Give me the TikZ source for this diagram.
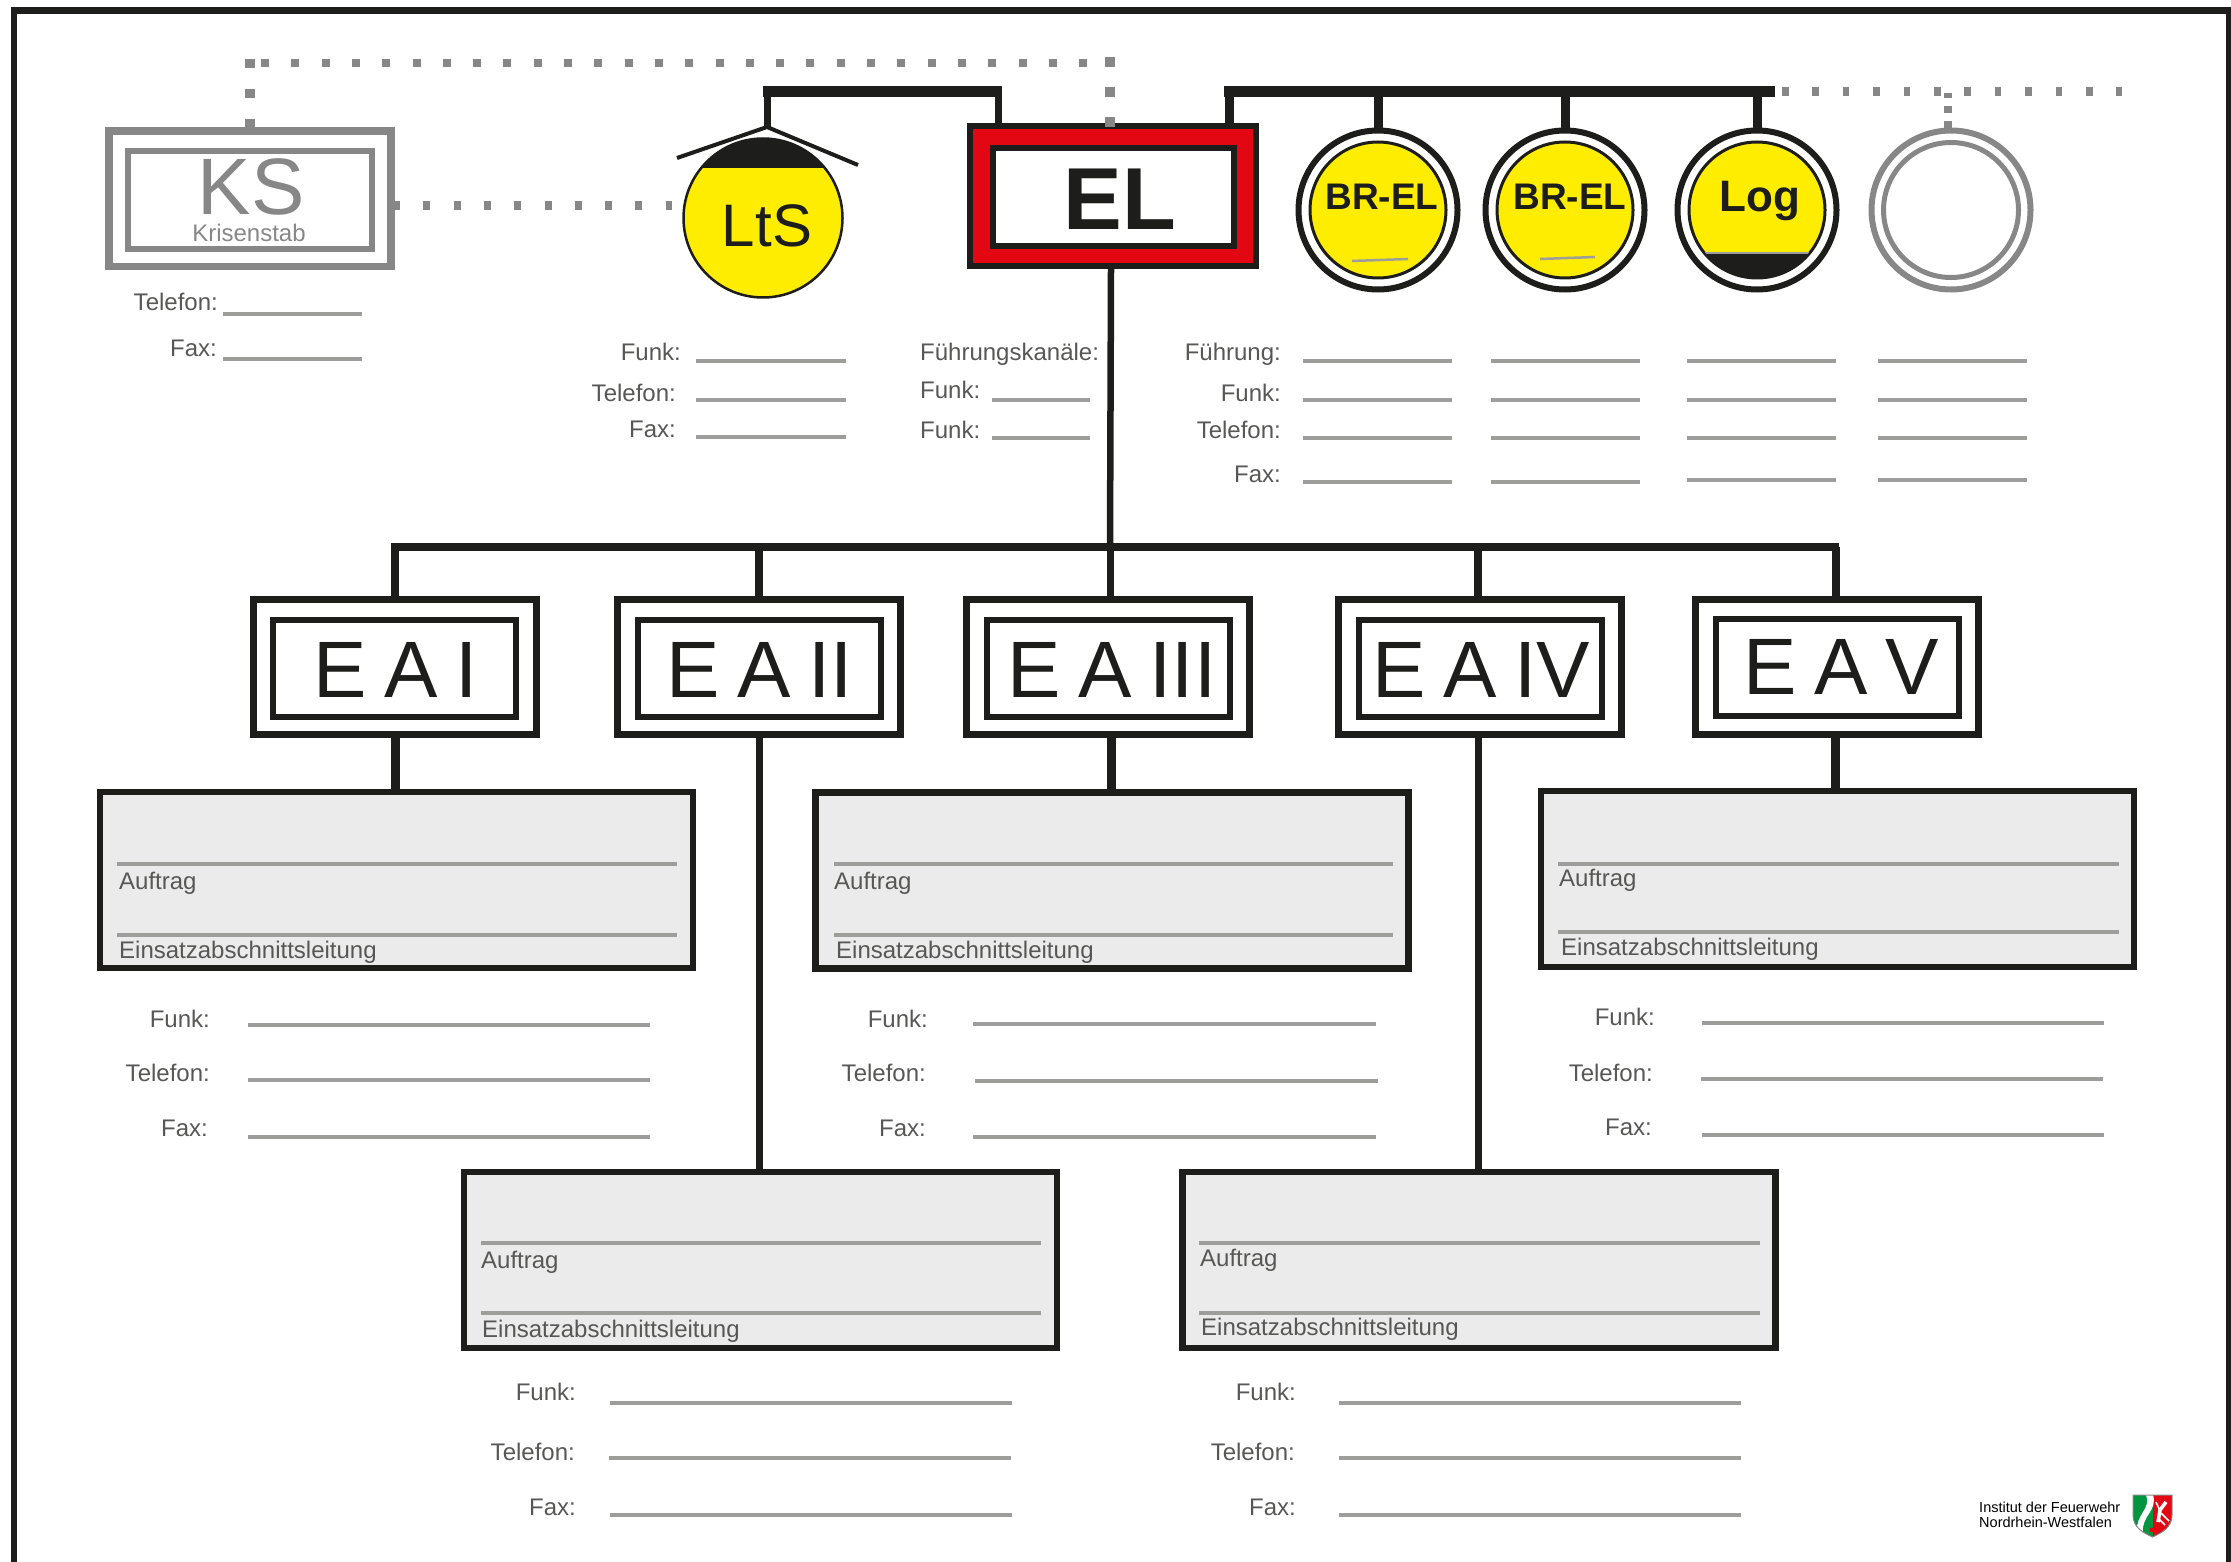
\documentclass[tikz,border=0pt]{standalone}
\usepackage{fontspec}
\setmainfont{Liberation Sans}
\definecolor{sheetblack}{HTML}{1D1D1B}
\definecolor{sheetred}{HTML}{E30613}
\definecolor{sheetyellow}{HTML}{FFED00}
\definecolor{sheetgray}{HTML}{878787}
\definecolor{rulegray}{HTML}{9D9D9C}
\definecolor{textgray}{HTML}{575756}
\definecolor{panelgray}{HTML}{EBEBEB}
\definecolor{shieldgreen}{HTML}{009640}
\def\eafont{\fontsize{80}{90}\selectfont\spaceskip=.22em\relax}
\tikzset{
	bus/.style={line width=11pt, color=sheetblack},
	stem/.style={line width=8pt, color=sheetblack},
	dotline/.style={line width=9pt, color=sheetgray},
	rowline/.style={line width=3.2pt, color=rulegray},
	rowlabel/.style={anchor=base east, inner sep=0pt, text=textgray, font=\fontsize{24}{28}\selectfont},
	rowlabelw/.style={rowlabel, anchor=base west},
	eaouter/.style={draw=sheetblack, line width=7pt, fill=white, rectangle, outer sep=0pt, inner sep=0pt, minimum width=283pt, minimum height=135pt},
	eainner/.style={draw=sheetblack, line width=6pt, rectangle, outer sep=0pt, inner sep=0pt, minimum width=243pt, minimum height=97pt},
	eatext/.style={anchor=base, inner sep=0pt, text=sheetblack, font=\eafont},
	panel/.style={draw=sheetblack, line width=6.5pt, fill=panelgray, rectangle, outer sep=0pt, inner sep=0pt, minimum width=593pt, minimum height=176pt},
	ringouter/.style={draw=sheetblack, line width=6pt, fill=white, circle, outer sep=0pt, inner sep=0pt, minimum size=159pt},
	ringinner/.style={draw=sheetblack, line width=3pt, fill=sheetyellow, circle, outer sep=0pt, inner sep=0pt, minimum size=136pt},
	ringtext/.style={anchor=base, inner sep=0pt, text=sheetblack, font=\bfseries\fontsize{37}{42}\selectfont},
}
\def\rowrule(#1,#2:#3){\draw[rowline] (#1,#2) -- (#3,#2);}
\def\panelrules(#1:#2)(#3:#4){\draw[line width=3.5pt, color=rulegray] (#1,#3) -- (#2,#3); \draw[line width=3.5pt, color=rulegray] (#1,#4) -- (#2,#4);}

\begin{document}
\begin{tikzpicture}[x=1pt, y=-1pt]
	\useasboundingbox (0,0) rectangle (2231,1562);
	%%%%% FRAME %%%%%
	\draw[line width=6.5pt, color=sheetblack] (14,1562) -- (14,10.5) -- (2229,10.5) -- (2229,1562);

	%%%%% TOP ROW %%%%%
	\node[draw=sheetgray, line width=7.5pt, rectangle, outer sep=0pt, minimum width=282pt, minimum height=135.5pt] (ks) at (250,199) {};
	\node[draw=sheetgray, line width=6pt, rectangle, outer sep=0pt, minimum width=244pt, minimum height=98pt] (ksinner) at (250,200) {};
	\node[anchor=base, inner sep=0pt, text=sheetgray, font=\fontsize{80}{90}\selectfont] (kstext) at (251,215) {KS};
	\node[anchor=base, inner sep=0pt, text=sheetgray, font=\fontsize{24}{28}\selectfont] (kssub) at (249,242) {Krisenstab};

	\node[draw=sheetblack, line width=2.5pt, fill=sheetyellow, circle, outer sep=0pt, inner sep=0pt, minimum size=159pt] (lts) at (763,218) {};
	\begin{scope}
		\clip (763,218) circle (79);
		\fill[sheetblack] (680,130) rectangle (850,168);
	\end{scope}
	\node[anchor=base, inner sep=0pt, text=sheetblack, font=\fontsize{60}{68}\selectfont] (ltstext) at (767,247) {LtS};
	\coordinate (roof) at (767,127);
	\draw[line width=4pt, color=sheetblack] (677,158) -- (roof) -- (858,165);

	\node[draw=sheetblack, line width=6pt, fill=sheetred, rectangle, outer sep=0pt, minimum width=286pt, minimum height=140pt] (el) at (1113,196.5) {};
	\node[draw=sheetblack, line width=6pt, fill=white, rectangle, outer sep=0pt, minimum width=241pt, minimum height=98pt] (elinner) at (1113.5,197) {};
	\node[anchor=base, inner sep=0pt, text=sheetblack, font=\bfseries\fontsize{88}{98}\selectfont] (eltext) at (1120,230) {EL};

	\node[ringouter] (brone) at (1378,210) {};
	\node[ringinner] (broneinner) at (1378,210) {};
	\node[ringtext] (bronetext) at (1382,210) {BR-EL};
	\draw[line width=2.5pt, color=rulegray] (1352,261) -- (1408,259);

	\node[ringouter] (brtwo) at (1565,210) {};
	\node[ringinner] (brtwoinner) at (1565,210) {};
	\node[ringtext] (brtwotext) at (1570,210) {BR-EL};
	\draw[line width=2.5pt, color=rulegray] (1540,259) -- (1595,257);

	\node[ringouter] (log) at (1757,210) {};
	\node[ringinner] (loginner) at (1757,210) {};
	\begin{scope}
		\clip (1757,210) circle (67);
		\fill[sheetblack] (1680,254) rectangle (1840,285);
		\draw[line width=2.5pt, color=rulegray] (1680,253) -- (1840,253);
	\end{scope}
	\node[ringtext, font=\bfseries\fontsize{44}{50}\selectfont] (logtext) at (1760,212) {Log};

	\node[draw=sheetgray, line width=6pt, circle, outer sep=0pt, inner sep=0pt, minimum size=159pt] (spare) at (1951,210) {};
	\node[draw=sheetgray, line width=5pt, circle, outer sep=0pt, inner sep=0pt, minimum size=135pt] (spareinner) at (1951,210) {};

	%%%%% TOP CONNECTORS %%%%%
	\coordinate (busa) at (763,91.5);
	\coordinate (busb) at (1001.5,91.5);
	\coordinate (busc) at (1224,91.5);
	\coordinate (busd) at (1775,91.5);
	\draw[bus] (busa) -- (busb);
	\draw[bus] (busc) -- (busd);
	\draw[line width=7pt, color=sheetblack] (roof) -- (roof |- busa);
	\draw[line width=7pt, color=sheetblack] (998,125) -- (998,91.5);
	\draw[line width=9pt, color=sheetblack] (1229,125) -- (1229,91.5);
	\draw[line width=9pt, color=sheetblack] (brone.north) -- (brone.north |- busd);
	\draw[line width=9pt, color=sheetblack] (brtwo.north) -- (brtwo.north |- busd);
	\draw[line width=9pt, color=sheetblack] (log.north) -- (log.north |- busd);

	\coordinate (kstop) at (249.5,128);
	\coordinate (kscorner) at (249.5,59);
	\coordinate (dotstart) at (261,63);
	\coordinate (dotend) at (1090,63);
	\coordinate (eltop) at (1110,127);
	\coordinate (elcorner) at (1110,57);
	\coordinate (ksout) at (393,206);
	\coordinate (ltsin) at (672,206);
	\coordinate (dotright) at (2122,91.5);
	\coordinate (dotleft) at (1782,91.5);
	\coordinate (sparetop) at (1948,128);
	\coordinate (sparebus) at (1948,93);
	\draw[line width=10pt, color=sheetgray, dash pattern=on 9pt off 21pt] (kstop) -- (kscorner);
	\draw[line width=8pt, color=sheetgray, dash pattern=on 8pt off 22.3pt] (dotstart) -- (dotend);
	\draw[line width=10pt, color=sheetgray, dash pattern=on 10pt off 20pt] (eltop) -- (elcorner);
	\draw[dotline, dash pattern=on 7pt off 23.3pt] (ksout) -- (ltsin);
	\draw[dotline, dash pattern=on 6.5pt off 23.9pt] (dotleft) -- (dotright);
	\draw[line width=8pt, color=sheetgray, dash pattern=on 7pt off 8pt] (sparetop) -- (sparebus);

	%%%%% TOP LABELS %%%%%
	\node[rowlabel] (kstel) at (218,311) {Telefon:};
	\node[rowlabel] (ksfax) at (217,357) {Fax:};
	\rowrule(223,314:362)
	\rowrule(223,359:362)

	\node[rowlabel] (ltsfunk) at (681,361) {Funk:};
	\node[rowlabel] (ltstel) at (676,401) {Telefon:};
	\node[rowlabel] (ltsfax) at (676,437) {Fax:};
	\rowrule(696,361:846)
	\rowrule(696,400:846)
	\rowrule(696,437:846)

	\node[rowlabelw] (elkan) at (920,361) {Führungskanäle:};
	\node[rowlabelw] (elfunka) at (920,399) {Funk:};
	\node[rowlabelw] (elfunkb) at (920,438) {Funk:};
	\rowrule(992,400:1090)
	\rowrule(992,438:1090)

	\node[rowlabel] (brfuehr) at (1281,361) {Führung:};
	\node[rowlabel] (brfunk) at (1281,401) {Funk:};
	\node[rowlabel] (brtel) at (1281,438) {Telefon:};
	\node[rowlabel] (brfax) at (1281,482) {Fax:};
	\rowrule(1303,361:1452) \rowrule(1491,361:1640) \rowrule(1687,361:1836) \rowrule(1878,361:2027)
	\rowrule(1303,400:1452) \rowrule(1491,400:1640) \rowrule(1687,400:1836) \rowrule(1878,400:2027)
	\rowrule(1303,438:1452) \rowrule(1491,438:1640) \rowrule(1687,438:1836) \rowrule(1878,438:2027)
	\rowrule(1303,482:1452) \rowrule(1491,482:1640) \rowrule(1687,480:1836) \rowrule(1878,480:2027)

	%%%%% SECTIONS %%%%%
	\coordinate (lowl) at (391,546.5);
	\coordinate (lowr) at (1839,546.5);

	\node[eaouter] (eaone) at (395,667) {};
	\node[eainner] (eaoneinner) at (394.5,668.5) {};
	\node[eatext] (eaonetext) at (396,697) {E A I};
	\node[eaouter] (eatwo) at (759,667) {};
	\node[eainner] (eatwoinner) at (759,668.5) {};
	\node[eatext] (eatwotext) at (760,697) {E A II};
	\node[eaouter] (eathree) at (1108,667) {};
	\node[eainner] (eathreeinner) at (1108,668.5) {};
	\node[eatext] (eathreetext) at (1112,697) {E A III};
	\node[eaouter] (eafour) at (1480,667) {};
	\node[eainner] (eafourinner) at (1480,668.5) {};
	\node[eatext] (eafourtext) at (1481,697) {E A IV};
	\node[eaouter] (eafive) at (1837,667) {};
	\node[eainner] (eafiveinner) at (1837,667) {};
	\node[eatext] (eafivetext) at (1841,694) {E A V};

	\node[panel] (panone) at (396.5,880) {};
	\node[panel] (panthree) at (1112,880.5) {};
	\node[panel] (panfive) at (1837.5,879) {};
	\node[panel] (pantwo) at (760.5,1260) {};
	\node[panel] (panfour) at (1479,1260) {};

	\draw[line width=8pt, color=sheetblack] (lowl) -- (lowr);
	\draw[line width=6.5pt, color=sheetblack] (1111,269) -- (1110,546.5);
	\draw[stem] (eaone.north) -- (eaone.north |- lowl);
	\draw[stem] (eatwo.north) -- (eatwo.north |- lowl);
	\draw[line width=7pt, color=sheetblack] ([xshift=2pt]eathree.north) -- ([xshift=2pt]eathree.north |- lowl);
	\draw[stem] ([xshift=-2pt]eafour.north) -- ([xshift=-2pt]eafour.north |- lowl);
	\draw[stem] ([xshift=-1.5pt]eafive.north) -- ([xshift=-1.5pt]eafive.north |- lowl);
	\draw[line width=9pt, color=sheetblack] (eaone.south) -- (eaone.south |- panone.north);
	\draw[line width=7pt, color=sheetblack] (eatwo.south) -- (eatwo.south |- pantwo.north);
	\draw[line width=9pt, color=sheetblack] ([xshift=3pt]eathree.south) -- ([xshift=3pt]eathree.south |- panthree.north);
	\draw[line width=7pt, color=sheetblack] ([xshift=-2pt]eafour.south) -- ([xshift=-2pt]eafour.south |- panfour.north);
	\draw[line width=9pt, color=sheetblack] ([xshift=-1.5pt]eafive.south) -- ([xshift=-1.5pt]eafive.south |- panfive.north);

	%%%%% PANEL ONE %%%%%
	\panelrules(117:677)(864:935)
	\node[rowlabelw] (oneauf) at (119,889) {Auftrag};
	\node[rowlabelw] (oneein) at (119,958) {Einsatzabschnittsleitung};
	\node[rowlabel] (onefunk) at (210,1027) {Funk:};
	\node[rowlabel] (onetel) at (210,1081) {Telefon:};
	\node[rowlabel] (onefax) at (208,1136) {Fax:};
	\rowrule(248,1025:650)
	\rowrule(248,1080:650)
	\rowrule(248,1137:650)

	%%%%% PANEL THREE %%%%%
	\panelrules(834:1393)(864:935)
	\node[rowlabelw] (threeauf) at (834,889) {Auftrag};
	\node[rowlabelw] (threeein) at (836,958) {Einsatzabschnittsleitung};
	\node[rowlabel] (threefunk) at (928,1027) {Funk:};
	\node[rowlabel] (threetel) at (926,1081) {Telefon:};
	\node[rowlabel] (threefax) at (926,1136) {Fax:};
	\rowrule(973,1024:1376)
	\rowrule(975,1081:1378)
	\rowrule(973,1137:1376)

	%%%%% PANEL FIVE %%%%%
	\panelrules(1558:2119)(864:932)
	\node[rowlabelw] (fiveauf) at (1559,886) {Auftrag};
	\node[rowlabelw] (fiveein) at (1561,955) {Einsatzabschnittsleitung};
	\node[rowlabel] (fivefunk) at (1655,1025) {Funk:};
	\node[rowlabel] (fivetel) at (1653,1081) {Telefon:};
	\node[rowlabel] (fivefax) at (1652,1135) {Fax:};
	\rowrule(1702,1023:2104)
	\rowrule(1701,1079:2103)
	\rowrule(1702,1135:2104)

	%%%%% PANEL TWO %%%%%
	\panelrules(481:1041)(1243:1313)
	\node[rowlabelw] (twoauf) at (481,1268) {Auftrag};
	\node[rowlabelw] (twoein) at (482,1337) {Einsatzabschnittsleitung};
	\node[rowlabel] (twofunk) at (576,1400) {Funk:};
	\node[rowlabel] (twotel) at (575,1460) {Telefon:};
	\node[rowlabel] (twofax) at (576,1515) {Fax:};
	\rowrule(610,1403:1012)
	\rowrule(609,1458:1011)
	\rowrule(610,1515:1012)

	%%%%% PANEL FOUR %%%%%
	\panelrules(1199:1760)(1243:1313)
	\node[rowlabelw] (fourauf) at (1200,1266) {Auftrag};
	\node[rowlabelw] (fourein) at (1201,1335) {Einsatzabschnittsleitung};
	\node[rowlabel] (fourfunk) at (1296,1400) {Funk:};
	\node[rowlabel] (fourtel) at (1295,1460) {Telefon:};
	\node[rowlabel] (fourfax) at (1296,1515) {Fax:};
	\rowrule(1339,1403:1741)
	\rowrule(1339,1458:1741)
	\rowrule(1339,1515:1741)

	%%%%% LOGO %%%%%
	\node[anchor=base west, inner sep=0pt, text=black, font=\fontsize{14.5}{16}\selectfont] (instone) at (1979,1512) {Institut der Feuerwehr};
	\node[anchor=base west, inner sep=0pt, text=black, font=\fontsize{14.5}{16}\selectfont] (insttwo) at (1979,1527) {Nordrhein-Westfalen};
	\begin{scope}
		\clip (2133,1495) -- (2172,1495) -- (2172,1515) .. controls (2172,1528) and (2161,1533) .. (2152.5,1537) .. controls (2144,1533) and (2133,1528) .. (2133,1515) -- cycle;
		\fill[shieldgreen] (2133,1495) rectangle (2153,1537);
		\fill[sheetred] (2153,1495) rectangle (2172,1537);
		\fill[white] (2146,1495) .. controls (2152,1508) and (2135,1515) .. (2137,1532) -- (2143,1532) .. controls (2141,1517) and (2158,1510) .. (2153,1495) -- cycle;
		\draw[white, line width=3.5pt] (2158,1522) -- (2160,1510) -- (2166,1502);
		\draw[white, line width=1.5pt] (2160,1511) -- (2156,1502);
		\draw[white, line width=1.5pt] (2161,1513) -- (2169,1521);
		\draw[white, line width=1.5pt] (2158,1518) -- (2165,1525);
		\fill[sheetred] (2152,1530) circle (2.5);
	\end{scope}
	\draw[line width=1pt, color=sheetgray] (2133,1495) -- (2172,1495) -- (2172,1515) .. controls (2172,1528) and (2161,1533) .. (2152.5,1537) .. controls (2144,1533) and (2133,1528) .. (2133,1515) -- cycle;
\end{tikzpicture}
\end{document}
